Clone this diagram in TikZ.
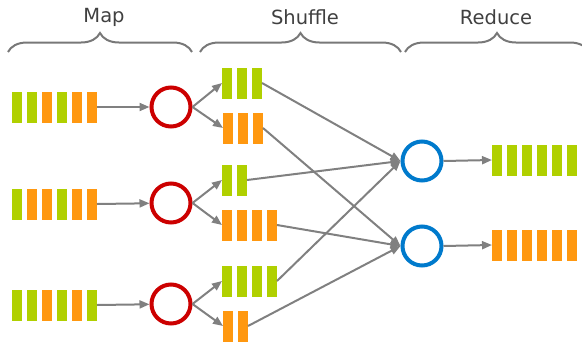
\documentclass[tikz,border=0pt]{standalone}
\usepackage{fontspec}
\setmainfont{DejaVu Sans}
\usetikzlibrary{arrows.meta,decorations.pathreplacing}

\definecolor{qgreen}{RGB}{176,208,0}
\definecolor{qorange}{RGB}{255,152,16}
\definecolor{mapred}{RGB}{204,0,0}
\definecolor{redblue}{RGB}{0,122,204}
\definecolor{flowgray}{RGB}{128,128,128}
\definecolor{bracegray}{RGB}{120,120,120}
\definecolor{labelgray}{RGB}{64,64,64}

\tikzset{
  queuebox/.style={inner sep=0pt, outer sep=0pt, minimum height=31},
  worker/.style={circle, draw=#1, line width=4, minimum size=39, inner sep=0pt, outer sep=2pt},
  flow/.style={draw=flowgray, line width=2, -{Triangle[length=10pt,width=8pt]}},
  phase/.style={draw=bracegray, line width=2, decorate,
    decoration={brace, amplitude=19pt, aspect=0.5}},
  phasename/.style={text=labelgray, font=\fontsize{19.5}{23}\selectfont}
}

% name, left x, centre y, number of bars, colours
\newcommand{\queue}[5]{%
  \node[queuebox, minimum width={15*#4-5}] (#1) at ({#2+(15*#4-5)/2},#3) {};
  \foreach \col [count=\i from 0] in {#5}
    \fill[\col] ({#2+15*\i},{#3-15.5}) rectangle +(10,31);
}

\begin{document}
\begin{tikzpicture}[x=1pt, y=-1pt]
  \useasboundingbox (0,0) rectangle (582,341);
  \clip (0,0) rectangle (582,341);

  % phases
  \draw[phase] (8,52) -- (192,52);
  \draw[phase] (200,52) -- (401,52);
  \draw[phase] (405,52) -- (589,52);
  \node[phasename] (mapname) at (104,17) {Map};
  \node[phasename] (shufname) at (305,17) {Shuffle};
  \node[phasename] (redname) at (496,17) {Reduce};

  % input queues
  \queue{in1}{12}{107}{6}{qgreen,qgreen,qorange,qgreen,qorange,qorange}
  \queue{in2}{12}{204}{6}{qgreen,qorange,qorange,qgreen,qorange,qorange}
  \queue{in3}{12}{305}{6}{qgreen,qgreen,qorange,qgreen,qorange,qgreen}

  % mappers
  \node[worker=mapred] (m1) at (171,107) {};
  \node[worker=mapred] (m2) at (171,203) {};
  \node[worker=mapred] (m3) at (171,304) {};

  % shuffled queues
  \queue{s1a}{222}{83}{3}{qgreen,qgreen,qgreen}
  \queue{s1b}{223}{128}{3}{qorange,qorange,qorange}
  \queue{s2a}{222}{180}{2}{qgreen,qgreen}
  \queue{s2b}{222}{225}{4}{qorange,qorange,qorange,qorange}
  \queue{s3a}{222}{281}{4}{qgreen,qgreen,qgreen,qgreen}
  \queue{s3b}{223}{326}{2}{qorange,qorange}

  % reducers
  \node[worker=redblue] (r1) at (422,161) {};
  \node[worker=redblue] (r2) at (422,246) {};

  % output queues
  \queue{o1}{492}{160}{6}{qgreen,qgreen,qgreen,qgreen,qgreen,qgreen}
  \queue{o2}{492}{245}{6}{qorange,qorange,qorange,qorange,qorange,qorange}

  % connections
  \draw[flow] (in1.east) -- (m1);
  \draw[flow] (in2.east) -- (m2);
  \draw[flow] (in3.east) -- (m3);
  \draw[flow] (m1.east) -- (s1a.west);
  \draw[flow] (m1.east) -- (s1b.west);
  \draw[flow] (m2.east) -- (s2a.west);
  \draw[flow] (m2.east) -- (s2b.west);
  \draw[flow] (m3.east) -- (s3a.west);
  \draw[flow] (m3.east) -- (s3b.west);
  \draw[flow] (s1a.east) -- (r1.west);
  \draw[flow] (s2a.east) -- (r1.west);
  \draw[flow] (s3a.east) -- (r1.west);
  \draw[flow] (s1b.east) -- (r2.west);
  \draw[flow] (s2b.east) -- (r2.west);
  \draw[flow] (s3b.east) -- (r2.west);
  \draw[flow] (r1.east) -- (o1.west);
  \draw[flow] (r2.east) -- (o2.west);
\end{tikzpicture}
\end{document}
